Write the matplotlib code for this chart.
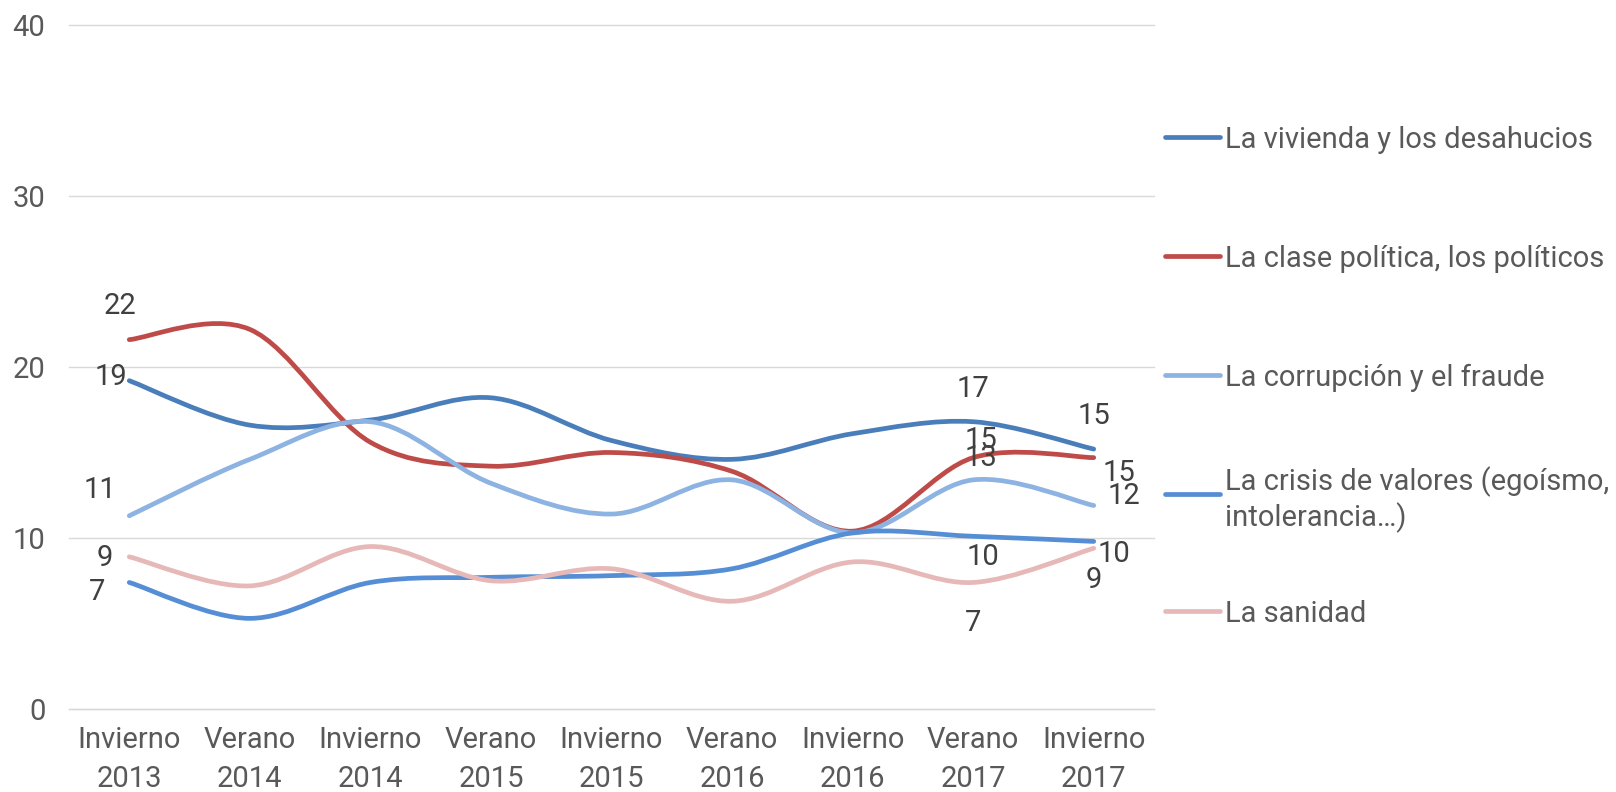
import numpy as np
import matplotlib
matplotlib.use("Agg")
import matplotlib.pyplot as plt
from matplotlib.path import Path
from matplotlib.patches import PathPatch
from matplotlib.lines import Line2D

plt.rcParams['font.family'] = ['Roboto', 'DejaVu Sans']

# data
periods = ["Invierno\n2013", "Verano\n2014", "Invierno\n2014", "Verano\n2015", "Invierno\n2015",
           "Verano\n2016", "Invierno\n2016", "Verano\n2017", "Invierno\n2017"]
series_names = ["La vivienda y los desahucios",
                "La clase política, los políticos",
                "La corrupción y el fraude",
                "La crisis de valores (egoísmo,\nintolerancia…)",
                "La sanidad"]
vivienda = [19.2, 16.6, 16.9, 18.2, 15.7, 14.6, 16.1, 16.8, 15.2]
clase_politica = [21.6, 22.2, 15.6, 14.2, 15.0, 13.9, 10.4, 14.7, 14.7]
corrupcion = [11.3, 14.6, 16.8, 13.2, 11.4, 13.4, 10.3, 13.4, 11.9]
crisis_valores = [7.4, 5.3, 7.4, 7.7, 7.8, 8.2, 10.3, 10.1, 9.8]
sanidad = [8.9, 7.2, 9.5, 7.5, 8.2, 6.3, 8.6, 7.4, 9.4]

all_series = [vivienda, clase_politica, corrupcion, crisis_valores, sanidad]
colors = ["#4A7EBB", "#BE4B48", "#8DB3E2", "#558ED5", "#E6B9B8"]

# which points carry labels, and label offsets in pixels (dx, dy)
label_idx = [0, 7, 8]
label_offsets = {
    0: [(-18, 4), (-9, 34), (-29, 26), (-32, -10), (-25, -1)],
    7: [(0, 33), (8, 18), (8, 22), (10, -21), (0, -41)],
    8: [(0, 33), (25, -15), (30, 10), (20, -13), (0, -32)],
}

FS = 21
TXT = "#595959"


def smooth_path(xs, ys):
    # Excel-style smoothed line: cubic bezier through each point
    pts = np.column_stack([xs, ys]).astype(float)
    n = len(pts)
    verts = [pts[0]]
    codes = [Path.MOVETO]
    for i in range(n - 1):
        p0 = pts[i - 1] if i > 0 else pts[i]
        p1 = pts[i]
        p2 = pts[i + 1]
        p3 = pts[i + 2] if i + 2 < n else pts[i + 1]
        c1 = p1 + (p2 - p0) / 6.0
        c2 = p2 - (p3 - p1) / 6.0
        verts += [c1, c2, p2]
        codes += [Path.CURVE4] * 3
    return Path(verts, codes)


fig = plt.figure(figsize=(16.16, 7.92), dpi=100)
ax = fig.add_axes([69 / 1616, 83 / 792, 1085 / 1616, 684 / 792])

x = np.arange(len(periods))
for k, (vals, c) in enumerate(zip(all_series, colors)):
    patch = PathPatch(smooth_path(x, vals), fill=False, edgecolor=c, lw=3.4,
                      capstyle='round', joinstyle='round', zorder=3 + k)
    ax.add_patch(patch)
    for i in label_idx:
        dx, dy = label_offsets[i][k]
        ax.annotate(f"{round(vals[i])}", (x[i], vals[i]), xytext=(dx, dy),
                    textcoords='offset pixels', ha='center', va='center',
                    fontsize=FS, color="#404040", zorder=10)

ax.set_xlim(-0.5, len(periods) - 0.5)
ax.set_ylim(0, 40)
ax.set_yticks([0, 10, 20, 30, 40])
ax.set_xticks(x)
ax.set_xticklabels(periods, linespacing=1.5)
ax.tick_params(axis='both', length=0, labelsize=FS, labelcolor=TXT)
ax.tick_params(axis='y', pad=17)
ax.tick_params(axis='x', pad=12)
ax.grid(axis='y', color="#D9D9D9", lw=1.0)
for s in ['top', 'left', 'right']:
    ax.spines[s].set_visible(False)
ax.spines['bottom'].set_color("#D9D9D9")
ax.spines['bottom'].set_linewidth(1.0)
for gl in ax.get_ygridlines():
    gl.set_clip_on(False)

# legend drawn at the right of the plot
leg_y = [137, 256, 375, 494, 611]
for name, c, yy in zip(series_names, colors, leg_y):
    fy = 1 - yy / 792
    fig.add_artist(Line2D([1165 / 1616, 1220 / 1616], [fy, fy], color=c, lw=3.4,
                          solid_capstyle='round'))
    fig.text(1225 / 1616, fy, name, ha='left', va='center_baseline',
             fontsize=FS, color=TXT, linespacing=1.2)

fig.savefig("out.png", dpi=100)
